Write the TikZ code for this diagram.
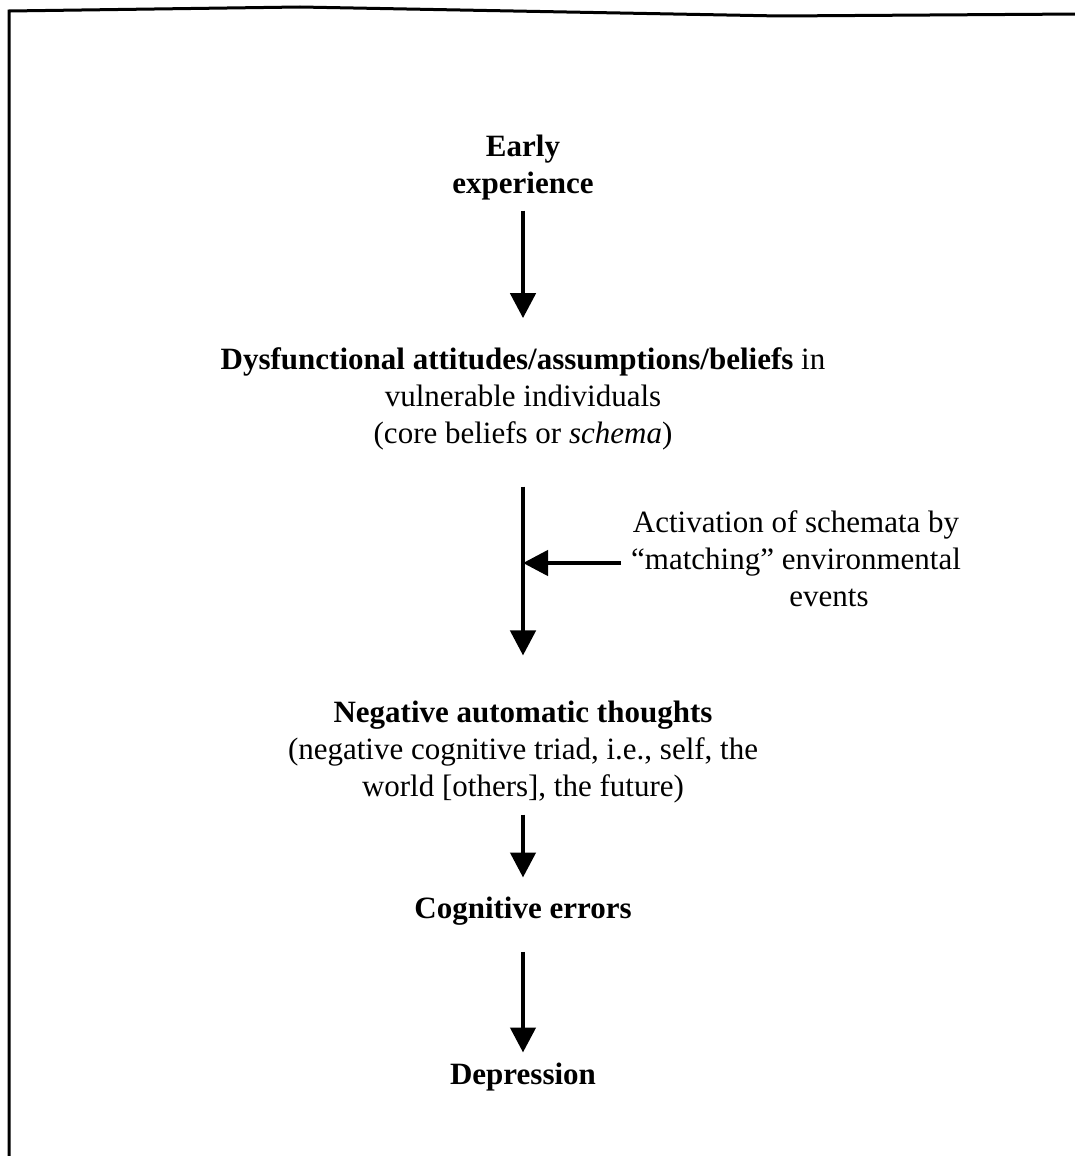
\documentclass[tikz,border=0pt]{standalone}
\usepackage{fontspec}
\setmainfont{Liberation Serif}
\usetikzlibrary{arrows.meta}

\begin{document}
\begin{tikzpicture}[x=1pt, y=-1pt,
  label/.style={inner sep=0pt, outer sep=0pt, align=center, anchor=base,
    font=\fontsize{31}{37}\selectfont},
  arr/.style={line width=4.5pt,
    -{Triangle[width=25pt,length=25pt]}},
  frame/.style={line width=3pt, line join=miter}]

  % page extent
  \useasboundingbox (0,0) rectangle (1074,1156);

  % open frame: left edge and slightly uneven top edge
  \draw[frame] (9,1160) -- (9,11) -- (300,7) -- (780,16) -- (1080,14);

  % the chain of stages (each placed by the baseline of its last line)
  \node[label] (early) at (523,193) {\textbf{Early}\\\textbf{experience}};
  \node[label] (dysf) at (523,443)
    {\textbf{Dysfunctional attitudes/assumptions/beliefs} in\\
     vulnerable individuals\\(core beliefs or \textit{schema})};
  \node[label] (activ) at (796,606)
    {Activation of schemata by\\“matching” environmental\\\hspace*{66pt}events};
  \node[label] (neg) at (523,796)
    {\textbf{Negative automatic thoughts}\\
     (negative cognitive triad, i.e., self, the\\world [others], the future)};
  \node[label] (cogn) at (523,918) {\textbf{Cognitive errors}};
  \node[label] (depr) at (523,1084) {\textbf{Depression}};

  % point where the activating events meet the main path
  \coordinate (join) at (523,563);

  % connectors
  \draw[arr] ([yshift=-11pt]early.south) -- ([yshift=29pt]dysf.north);
  \draw[arr] ([yshift=-37pt]dysf.south) -- ([yshift=45pt]neg.north);
  \draw[arr] ([xshift=-10pt]activ.west |- join) -- (join);
  \draw[arr] ([yshift=-12pt]neg.south) -- ([yshift=19pt]cogn.north);
  \draw[arr] ([yshift=-27pt]cogn.south) -- ([yshift=10pt]depr.north);
\end{tikzpicture}
\end{document}
